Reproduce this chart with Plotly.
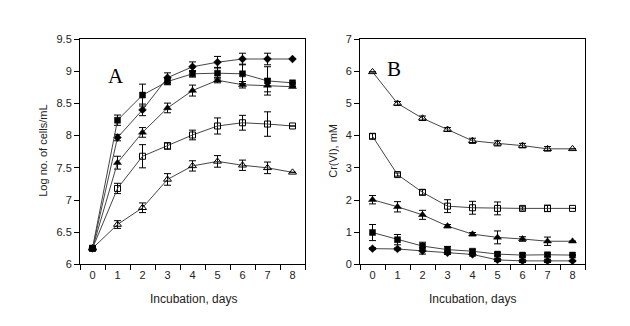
import plotly.graph_objects as go

days = [0, 1, 2, 3, 4, 5, 6, 7, 8]

# Panel A: Log no. of cells/mL
a_diamond = [6.25, 7.97, 8.40, 8.90, 9.07, 9.14, 9.19, 9.19, 9.19]
a_diamond_err = [None, 0.05, 0.09, 0.075, 0.075, 0.09, 0.09, 0.09, None]
a_fsquare = [6.25, 8.24, 8.63, 8.84, 8.96, 8.97, 8.96, 8.85, 8.82]
a_fsquare_err = [None, 0.08, 0.17, 0.05, 0.05, 0.09, 0.15, 0.22, None]
a_ftri = [6.25, 7.58, 8.05, 8.43, 8.70, 8.86, 8.79, 8.78, 8.76]
a_ftri_err = [None, 0.10, 0.075, 0.075, 0.085, 0.04, 0.05, 0.10, None]
a_osquare = [6.25, 7.18, 7.68, 7.84, 8.01, 8.15, 8.20, 8.18, 8.15]
a_osquare_err = [None, 0.08, 0.18, 0.05, 0.075, 0.125, 0.115, 0.19, None]
a_otri = [6.25, 6.62, 6.88, 7.32, 7.53, 7.60, 7.54, 7.50, 7.43]
a_otri_err = [None, 0.06, 0.075, 0.09, 0.08, 0.09, 0.08, 0.09, None]

# Panel B: Cr(VI), mM
b_otri = [5.98, 5.00, 4.54, 4.19, 3.84, 3.76, 3.69, 3.59, 3.59]
b_otri_err = [None, 0.06, 0.07, 0.06, 0.08, 0.08, 0.07, 0.07, None]
b_osquare = [3.98, 2.79, 2.24, 1.81, 1.76, 1.74, 1.74, 1.74, 1.74]
b_osquare_err = [0.08, 0.05, 0.08, 0.2, 0.2, 0.2, 0.05, 0.1, None]
b_ftri = [2.01, 1.79, 1.54, 1.19, 0.94, 0.84, 0.79, 0.72, 0.72]
b_ftri_err = [0.13, 0.16, 0.14, 0.05, 0.05, 0.2, 0.07, 0.13, None]
b_fsquare = [0.99, 0.77, 0.57, 0.46, 0.41, 0.32, 0.29, 0.30, 0.29]
b_fsquare_err = [0.25, 0.16, 0.12, 0.1, 0.06, 0.05, 0.05, 0.05, None]
b_diamond = [0.49, 0.48, 0.42, 0.36, 0.31, 0.14, 0.11, 0.11, 0.11]
b_diamond_err = [0.03, 0.03, 0.1, 0.05, 0.05, 0.05, 0.05, 0.05, None]

a_ticks = [6, 6.5, 7, 7.5, 8, 8.5, 9, 9.5]
a_ticklabels = ["6", "6.5", "7", "7.5", "8", "8.5", "9", "9.5"]
b_ticks = [0, 1, 2, 3, 4, 5, 6, 7]

LINE = "#454545"
FONT = "Liberation Sans, Arial, sans-serif"

series_a = [
    (a_otri, a_otri_err, "triangle-up-open", 7),
    (a_osquare, a_osquare_err, "square-open", 6),
    (a_ftri, a_ftri_err, "triangle-up", 7),
    (a_diamond, a_diamond_err, "diamond", 6),
    (a_fsquare, a_fsquare_err, "square", 6),
]
series_b = [
    (b_otri, b_otri_err, "triangle-up-open", 7),
    (b_osquare, b_osquare_err, "square-open", 6),
    (b_ftri, b_ftri_err, "triangle-up", 7),
    (b_fsquare, b_fsquare_err, "square", 6),
    (b_diamond, b_diamond_err, "diamond", 6),
]

fig = go.Figure()

def add(series, xa, ya):
    for ys, err, sym, size in series:
        fig.add_trace(go.Scatter(
            x=days, y=ys, xaxis=xa, yaxis=ya, mode="lines+markers",
            line=dict(color=LINE, width=1),
            marker=dict(symbol=sym, size=size, color="black",
                        line=dict(color="black", width=1 if "open" in sym else 0.5)),
            error_y=dict(type="data", array=err, visible=True,
                         color="black", thickness=1, width=3.5),
            showlegend=False, hoverinfo="skip",
        ))

add(series_a, "x", "y")
add(series_b, "x2", "y2")

W, H = 630, 326
def px(x):
    return x / W
def py(y):
    return 1 - y / H

xcommon = dict(
    range=[-0.5, 8.5], tickmode="array", tickvals=days, ticks="",
    showline=True, linecolor="black", linewidth=1, mirror=True,
    showgrid=False, zeroline=False,
    tickfont=dict(family=FONT, size=11, color="#222"),
    minor=dict(tickmode="array", tickvals=[-0.5 + i for i in range(10)],
               ticks="outside", ticklen=5, tickcolor="black", tickwidth=1,
               showgrid=False),
)
ycommon = dict(
    showline=True, linecolor="black", linewidth=1, mirror=True,
    showgrid=False, zeroline=False, ticks="outside", ticklen=5,
    tickcolor="black", tickwidth=1,
    tickfont=dict(family=FONT, size=11, color="#222"),
)

fig.update_layout(
    width=W, height=H,
    margin=dict(l=0, r=0, t=0, b=0),
    paper_bgcolor="white", plot_bgcolor="white",
    xaxis=dict(domain=[px(72), px(297)], anchor="y", **xcommon),
    yaxis=dict(domain=[py(260), py(26)], anchor="x", range=[6, 9.5],
               tickmode="array", tickvals=a_ticks, ticktext=a_ticklabels,
               **ycommon),
    xaxis2=dict(domain=[px(352), px(577)], anchor="y2", **xcommon),
    yaxis2=dict(domain=[py(260), py(26)], anchor="x2", range=[0, 7],
                tickmode="array", tickvals=b_ticks, **ycommon),
    annotations=[
        dict(text="Incubation, days", x=px(185), y=py(296), xref="paper", yref="paper",
             showarrow=False, font=dict(family=FONT, size=12, color="#222"),
             xanchor="center", yanchor="middle"),
        dict(text="Incubation, days", x=px(464), y=py(296), xref="paper", yref="paper",
             showarrow=False, font=dict(family=FONT, size=12, color="#222"),
             xanchor="center", yanchor="middle"),
        dict(text="Log no. of cells/mL", x=px(35), y=py(142), xref="paper", yref="paper",
             showarrow=False, textangle=-90, font=dict(family=FONT, size=11, color="#222"),
             xanchor="center", yanchor="middle"),
        dict(text="Cr(VI), mM", x=px(325), y=py(142), xref="paper", yref="paper",
             showarrow=False, textangle=-90, font=dict(family=FONT, size=11, color="#222"),
             xanchor="center", yanchor="middle"),
        dict(text="A", x=px(108), y=py(64), xref="paper", yref="paper",
             showarrow=False, font=dict(family="Liberation Serif, Times New Roman, serif",
                                        size=21, color="black"),
             xanchor="center", yanchor="middle"),
        dict(text="B", x=px(386), y=py(57), xref="paper", yref="paper",
             showarrow=False, font=dict(family="Liberation Serif, Times New Roman, serif",
                                        size=21, color="black"),
             xanchor="center", yanchor="middle"),
    ],
)

fig.write_html("out.html")
